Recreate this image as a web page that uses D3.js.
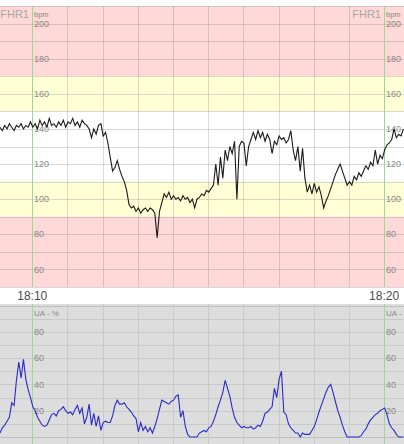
<!DOCTYPE html>
<html>
  <head>
    <meta charset="utf-8">
    <title>FHR / UA strip</title>
    <script src="https://d3js.org/d3.v7.min.js"></script>
    <style>
      body { margin: 0; background: #fff; }
      svg { display: block; font-family: "Liberation Sans", Arial, sans-serif; }
      .lbl { fill: #8a8a8a; font-size: 9px; }
    </style>
  </head>
  <body>
    <svg id="chart" width="404" height="444"></svg>
    <script>
      // data: one sample every 4 s starting 18:09:05
      stepSec = 4;
      fhr = [141,139,142,140,143,141,139,142,141,143,140,142,141,
        144,141,143,140,145,142,144,141,146,142,143,141,144,
        142,145,141,144,143,146,142,144,141,145,143,142,140,
        135,140,137,142,143,136,138,132,124,116,118,122,117,113,110,105,97,95,96,
        93,95,92,94,95,93,95,94,92,78,93,98,103,101,104,100,102,100,101,99,102,100,
        101,98,100,95,100,101,103,102,105,104,106,108,120,108,124,112,128,122,130,126,
        133,100,130,133,132,119,130,134,138,134,139,135,138,133,137,134,126,133,131,136,
        134,135,132,134,139,128,122,130,116,129,112,104,108,103,109,104,107,102,95,99,
        102,106,110,114,117,120,116,112,108,110,108,113,111,115,113,116,119,117,121,119,
        128,120,125,123,128,131,132,134,140,135,137,136,140];
      ua = [3,7,9,12,15,26,24,43,57,45,59,44,36,30,23,20,15,12,9,8,9,13,17,18,16,20,
        21,23,20,18,19,17,21,24,18,22,10,15,25,9,18,8,16,5,11,12,11,11,16,24,28,25,25,
        26,23,21,19,16,14,4,11,5,8,4,7,3,8,14,21,28,27,26,25,27,28,31,32,15,20,8,2,0,
        0,0,0,3,4,5,4,7,8,12,17,23,28,34,43,37,31,22,15,11,9,7,8,7,7,8,6,7,9,8,12,18,
        19,21,23,37,30,44,50,19,17,10,7,5,3,3,0,3,2,2,2,5,8,13,19,24,29,34,38,40,34,27,
        20,15,9,4,0,0,0,0,0,0,1,4,6,10,13,15,17,18,20,21,22,17,10,7,5,2,0,0,0];
      fhrBands = [[170, 210], [150, 170], [110, 150], [90, 110], [50, 90]];
      fhrLabels = [60, 80, 100, 120, 140, 160, 180, 200];
      uaLabels = [20, 40, 60, 80];
      timeLabels = ["18:10", "18:20"];

      width = 404;
      height = 444;
      svg = d3.select("#chart");
      t0 = new Date(2000, 0, 1, 18, 9, 5);
      t1 = new Date(2000, 0, 1, 18, 20, 34);
      x = d3.scaleTime().domain([t0, t1]).range([0, width]);
      yF = d3.scaleLinear().domain([50, 210]).range([287, 6]);
      yU = d3.scaleLinear().domain([0, 100]).range([437, 305.5]);
      timeOf = function(i) { return new Date(t0.getTime() + i * stepSec * 1000); };

      // FHR panel bands
      bandColors = ["#ffd8d8", "#ffffd6", "#ffffff", "#ffffd6", "#ffd8d8"];
      svg.append("g").selectAll("rect")
          .data(fhrBands)
        .enter().append("rect")
          .attr("x", 0)
          .attr("width", width)
          .attr("y", d => yF(d[1]))
          .attr("height", d => yF(d[0]) - yF(d[1]))
          .attr("fill", (d, i) => bandColors[i]);

      // UA panel background
      svg.append("rect")
        .attr("x", 0).attr("width", width)
        .attr("y", yU(100) - 1.5).attr("height", height - yU(100) + 1.5)
        .attr("fill", "#dddddd");

      minutes = x.ticks(d3.timeMinute.every(1));
      isTen = d => d.getMinutes() % 10 == 0;

      // horizontal grid
      svg.append("g").selectAll("line")
          .data(d3.range(50, 211, 10))
        .enter().append("line")
          .attr("x1", 0).attr("x2", width)
          .attr("y1", d => Math.round(yF(d)) + 0.5)
          .attr("y2", d => Math.round(yF(d)) + 0.5)
          .attr("stroke", "rgba(140,140,140,0.35)");
      svg.append("g").selectAll("line")
          .data(d3.range(0, 101, 10))
        .enter().append("line")
          .attr("x1", 0).attr("x2", width)
          .attr("y1", d => Math.round(yU(d)) + 0.5)
          .attr("y2", d => Math.round(yU(d)) + 0.5)
          .attr("stroke", d => d == 100 || d == 0 ? "#bdbdbd" : "#c9c9c9");

      // vertical grid, green every 10 minutes
      ["fhr", "ua"].forEach(function(p) {
        y0 = p == "fhr" ? yF(210) : yU(100) - 1.5;
        y1 = p == "fhr" ? yF(50) : height;
        svg.append("g").selectAll("line")
            .data(minutes)
          .enter().append("line")
            .attr("x1", d => Math.round(x(d)) + 0.5)
            .attr("x2", d => Math.round(x(d)) + 0.5)
            .attr("y1", y0).attr("y2", y1)
            .attr("stroke", d => isTen(d) ? "#9cd89c" : (p == "fhr" ? "rgba(140,140,140,0.32)" : "#c9c9c9"));
      });

      // axis labels on the 10 minute lines
      tenLines = minutes.filter(isTen);
      tenLines.forEach(function(t) {
        lx = Math.round(x(t)) + 2;
        svg.append("g").selectAll("text")
            .data(fhrLabels)
          .enter().append("text")
            .attr("class", "lbl")
            .attr("x", lx).attr("y", d => yF(d))
            .attr("dy", "0.35em")
            .text(d => d);
        svg.append("text").attr("class", "lbl")
          .attr("x", lx).attr("y", 17)
          .style("font-size", "7.5px")
          .text("bpm");
        svg.append("text")
          .attr("x", Math.round(x(t)) - 3).attr("y", 18)
          .attr("text-anchor", "end")
          .attr("fill", "#a8a8a8")
          .style("font-size", "11px")
          .text("FHR1");
        svg.append("g").selectAll("text")
            .data(uaLabels)
          .enter().append("text")
            .attr("class", "lbl")
            .attr("x", lx).attr("y", d => yU(d))
            .attr("dy", "0.35em")
            .text(d => d);
        svg.append("text").attr("class", "lbl")
          .attr("x", lx).attr("y", yU(94))
          .attr("dy", "0.35em")
          .style("font-size", "8px")
          .text("UA - %");
      });

      // time labels
      svg.append("g").selectAll("text")
          .data(tenLines)
        .enter().append("text")
          .attr("x", d => x(d))
          .attr("y", 300)
          .attr("text-anchor", "middle")
          .attr("fill", "#4a4a4a")
          .style("font-size", "12px")
          .text((d, i) => timeLabels[i]);

      // traces
      fhrLine = d3.line()
        .x((d, i) => x(timeOf(i)))
        .y(d => yF(d));
      uaLine = d3.line()
        .x((d, i) => x(timeOf(i)))
        .y(d => yU(d));
      svg.append("path")
        .datum(fhr)
        .attr("d", fhrLine)
        .attr("fill", "none")
        .attr("stroke", "#1a1a1a")
        .attr("stroke-width", 1.1);
      svg.append("path")
        .datum(ua)
        .attr("d", uaLine)
        .attr("fill", "none")
        .attr("stroke", "#2a2ac8")
        .attr("stroke-width", 1.1);
    </script>
  </body>
</html>
